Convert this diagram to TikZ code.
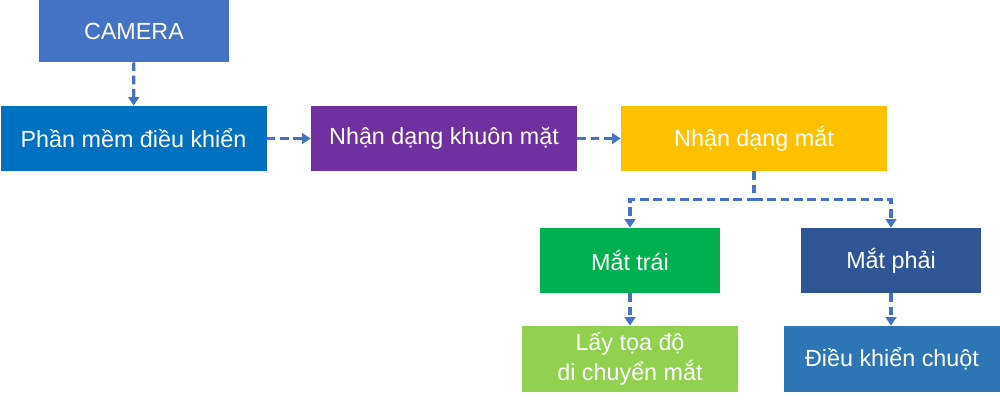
\documentclass[tikz,border=0pt]{standalone}
\usepackage{fontspec}
\setmainfont{Liberation Sans}
\usepackage{xcolor}
\usepackage{tikz}
\usetikzlibrary{arrows.meta,positioning,calc}
\definecolor{camblue}{HTML}{4472C4}
\definecolor{swblue}{HTML}{0070C0}
\definecolor{facepurple}{HTML}{7030A0}
\definecolor{eyeyellow}{HTML}{FFC000}
\definecolor{leftgreen}{HTML}{00B050}
\definecolor{rightblue}{HTML}{2F5597}
\definecolor{coordgreen}{HTML}{92D050}
\definecolor{mouseblue}{HTML}{2E75B6}
\definecolor{linkblue}{HTML}{4472C4}
\tikzset{
  box/.style={rectangle, draw=none, text=white, align=center, inner sep=0pt,
    font=\fontsize{17.5}{22}\selectfont},
  bigbox/.style={box, minimum width=199.5pt, minimum height=48.75pt},
  eyebox/.style={box, minimum width=135pt, minimum height=48.75pt},
  endbox/.style={box, minimum width=162pt, minimum height=49.5pt},
  dasharrow/.style={-{Triangle[length=6.5pt, width=8pt]}, draw=linkblue,
    line width=2.4pt, dash pattern=on 6.5pt off 3.5pt},
}

\begin{document}
\begin{tikzpicture}[x=0.75pt, y=-0.75pt]
  % page frame
  \useasboundingbox (0,0) rectangle (1000,402);

  % top row
  \node[box, fill=camblue, minimum width=142.5pt, minimum height=46.5pt] (camera) at (134,31) {CAMERA};
  \node[bigbox, fill=swblue] (software) at (133.5,138.5) {Phần mềm điều khiển};
  \node[bigbox, fill=facepurple] (face) at (444,138.5) {Nhận dạng khuôn mặt};
  \node[bigbox, fill=eyeyellow] (eyes) at (754,138.5) {Nhận dạng mắt};

  % eyes - left and right
  \node[eyebox, fill=leftgreen] (lefteye) at (630,260.5) {Mắt trái};
  \node[eyebox, fill=rightblue] (righteye) at (891,260.5) {Mắt phải};

  % results
  \node[endbox, fill=coordgreen] (coords) at (630,359) {Lấy tọa độ\\di chuyển mắt};
  \node[endbox, fill=mouseblue] (mouse) at (892,359) {Điều khiển chuột};

  % connectors
  \draw[dasharrow] (camera) -- (software);
  \draw[dasharrow] (software) -- (face);
  \draw[dasharrow] (face) -- (eyes);
  \coordinate (split) at ($(eyes.south)+(0,28)$);
  \draw[dasharrow] (eyes.south) -- (split) -| (lefteye.north);
  \draw[dasharrow] (split) -| (righteye.north);
  \draw[dasharrow] (lefteye) -- (coords);
  \draw[dasharrow] (righteye.south) -- (righteye.south |- mouse.north);

\end{tikzpicture}
\end{document}
